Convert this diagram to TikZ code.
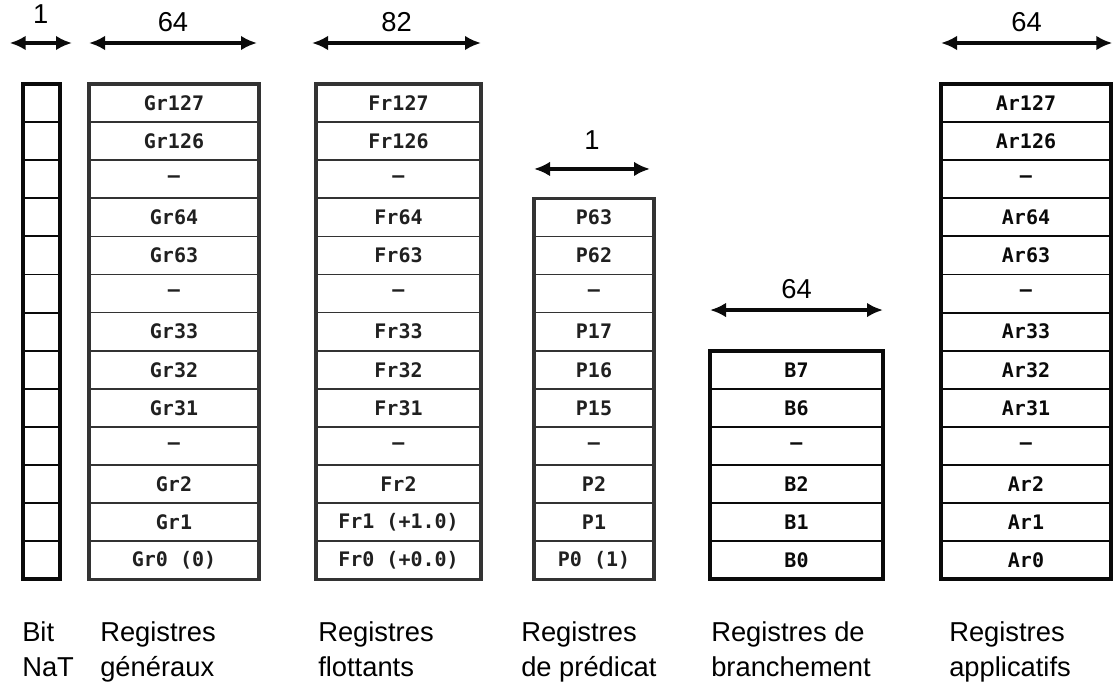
\documentclass[tikz,border=0pt]{standalone}
\usepackage{fontspec}
\setmainfont{Liberation Sans}
\newfontfamily\regfont{DejaVu Sans Mono}
\usepackage{tikz}
\usetikzlibrary{arrows.meta,positioning,fit}
\definecolor{ink}{HTML}{0A0A0A}
\definecolor{scan}{HTML}{333333}
\definecolor{scantext}{HTML}{202020}
\tikzset{
  cell/.style={
    rectangle,draw=ink,line width=1.4pt,inner sep=0pt,outer sep=0pt,
    minimum height=28.575pt,text=ink,
    font=\regfont\bfseries\fontsize{15}{15}\selectfont
  },
  natcell/.style={cell,minimum width=27.75pt},
  greycell/.style={cell,draw=scan,text=scantext,line width=1.3pt},
  frame/.style={draw=ink,line width=2.8pt,inner sep=0pt,outer sep=0pt},
  greyframe/.style={frame,draw=scan,line width=2.4pt},
  widtharrow/.style={
    {Latex[length=12pt,width=11pt]}-{Latex[length=12pt,width=11pt]},
    draw=ink,line width=3.4pt
  },
  widthlabel/.style={font=\fontsize{20.5}{24}\selectfont,inner sep=0pt},
  caption/.style={
    font=\fontsize{20.5}{26.25}\selectfont,align=left,
    inner sep=0pt,anchor=north west
  }
}

\begin{document}
\begin{tikzpicture}[x=0.75pt,y=-0.75pt]
\useasboundingbox (0,0) rectangle (1113,684);

% NaT bits
\foreach \i in {1,...,13}
  \node[natcell] (nat\i) at (41.5,{84+(\i-0.5)*38.1}) {};
\node[frame,line width=3.2pt,fit=(nat1)(nat13)] (natbox) {};

% general registers
\foreach \lab [count=\i] in {Gr127,Gr126,–,Gr64,Gr63,–,Gr33,Gr32,Gr31,–,Gr2,Gr1,{Gr0 (0)}}
  \node[greycell,minimum width=127.5pt] (gr\i) at (174,{84+(\i-0.5)*38.1}) {\lab};
\node[greyframe,fit=(gr1)(gr13)] (grbox) {};

% floating-point registers
\foreach \lab [count=\i] in {Fr127,Fr126,–,Fr64,Fr63,–,Fr33,Fr32,Fr31,–,Fr2,{Fr1 (+1.0)},{Fr0 (+0.0)}}
  \node[greycell,minimum width=123.75pt] (fr\i) at (398.5,{84+(\i-0.5)*38.1}) {\lab};
\node[greyframe,fit=(fr1)(fr13)] (frbox) {};

% predicate registers
\foreach \lab [count=\i] in {P63,P62,–,P17,P16,P15,–,P2,P1,{P0 (1)}}
  \node[greycell,minimum width=90pt] (pr\i) at (594,{198.3+(\i-0.5)*38.1}) {\lab};
\node[greyframe,fit=(pr1)(pr10)] (prbox) {};

% branch registers
\foreach \lab [count=\i] in {B7,B6,–,B2,B1,B0}
  \node[cell,minimum width=129.75pt] (br\i) at (796.5,{350.7+(\i-0.5)*38.1}) {\lab};
\node[frame,line width=3.2pt,fit=(br1)(br6)] (brbox) {};

% application registers
\foreach \lab [count=\i] in {Ar127,Ar126,–,Ar64,Ar63,–,Ar33,Ar32,Ar31,–,Ar2,Ar1,Ar0}
  \node[cell,minimum width=127.5pt] (ar\i) at (1026,{84+(\i-0.5)*38.1}) {\lab};
\node[frame,line width=3.2pt,fit=(ar1)(ar13)] (arbox) {};

% widths
\draw[widtharrow] ([xshift=-10pt,yshift=30.75pt]natbox.north west)
  -- node[widthlabel,above=12.75pt] {1} ([xshift=9pt,yshift=30.75pt]natbox.north east);
\draw[widtharrow] ([yshift=30.75pt]grbox.north west)
  -- node[widthlabel,above=7pt] {64} ([xshift=-1.5pt,yshift=30.75pt]grbox.north east);
\draw[widtharrow] ([xshift=-3pt,yshift=30.75pt]frbox.north west)
  -- node[widthlabel,above=7pt] {82} ([yshift=30.75pt]frbox.north east);
\draw[widtharrow] ([yshift=22pt]prbox.north west)
  -- node[widthlabel,above=12.75pt] {1} ([xshift=-3pt,yshift=22pt]prbox.north east);
\draw[widtharrow] ([yshift=30.5pt]brbox.north west)
  -- node[widthlabel,above=7pt] {64} ([yshift=30.5pt]brbox.north east);
\draw[widtharrow] ([yshift=30.75pt]arbox.north west)
  -- node[widthlabel,above=7pt] {64} ([xshift=1pt,yshift=30.75pt]arbox.north east);

% captions
\node[caption] (natcap) at (22,621) {Bit\\NaT};
\node[caption] (grcap) at (100,621) {Registres\\généraux};
\node[caption] (frcap) at (318,621) {Registres\\flottants};
\node[caption] (prcap) at (521,621) {Registres\\de prédicat};
\node[caption] (brcap) at (711,621) {Registres de\\branchement};
\node[caption] (arcap) at (949,621) {Registres\\applicatifs};
\end{tikzpicture}
\end{document}
